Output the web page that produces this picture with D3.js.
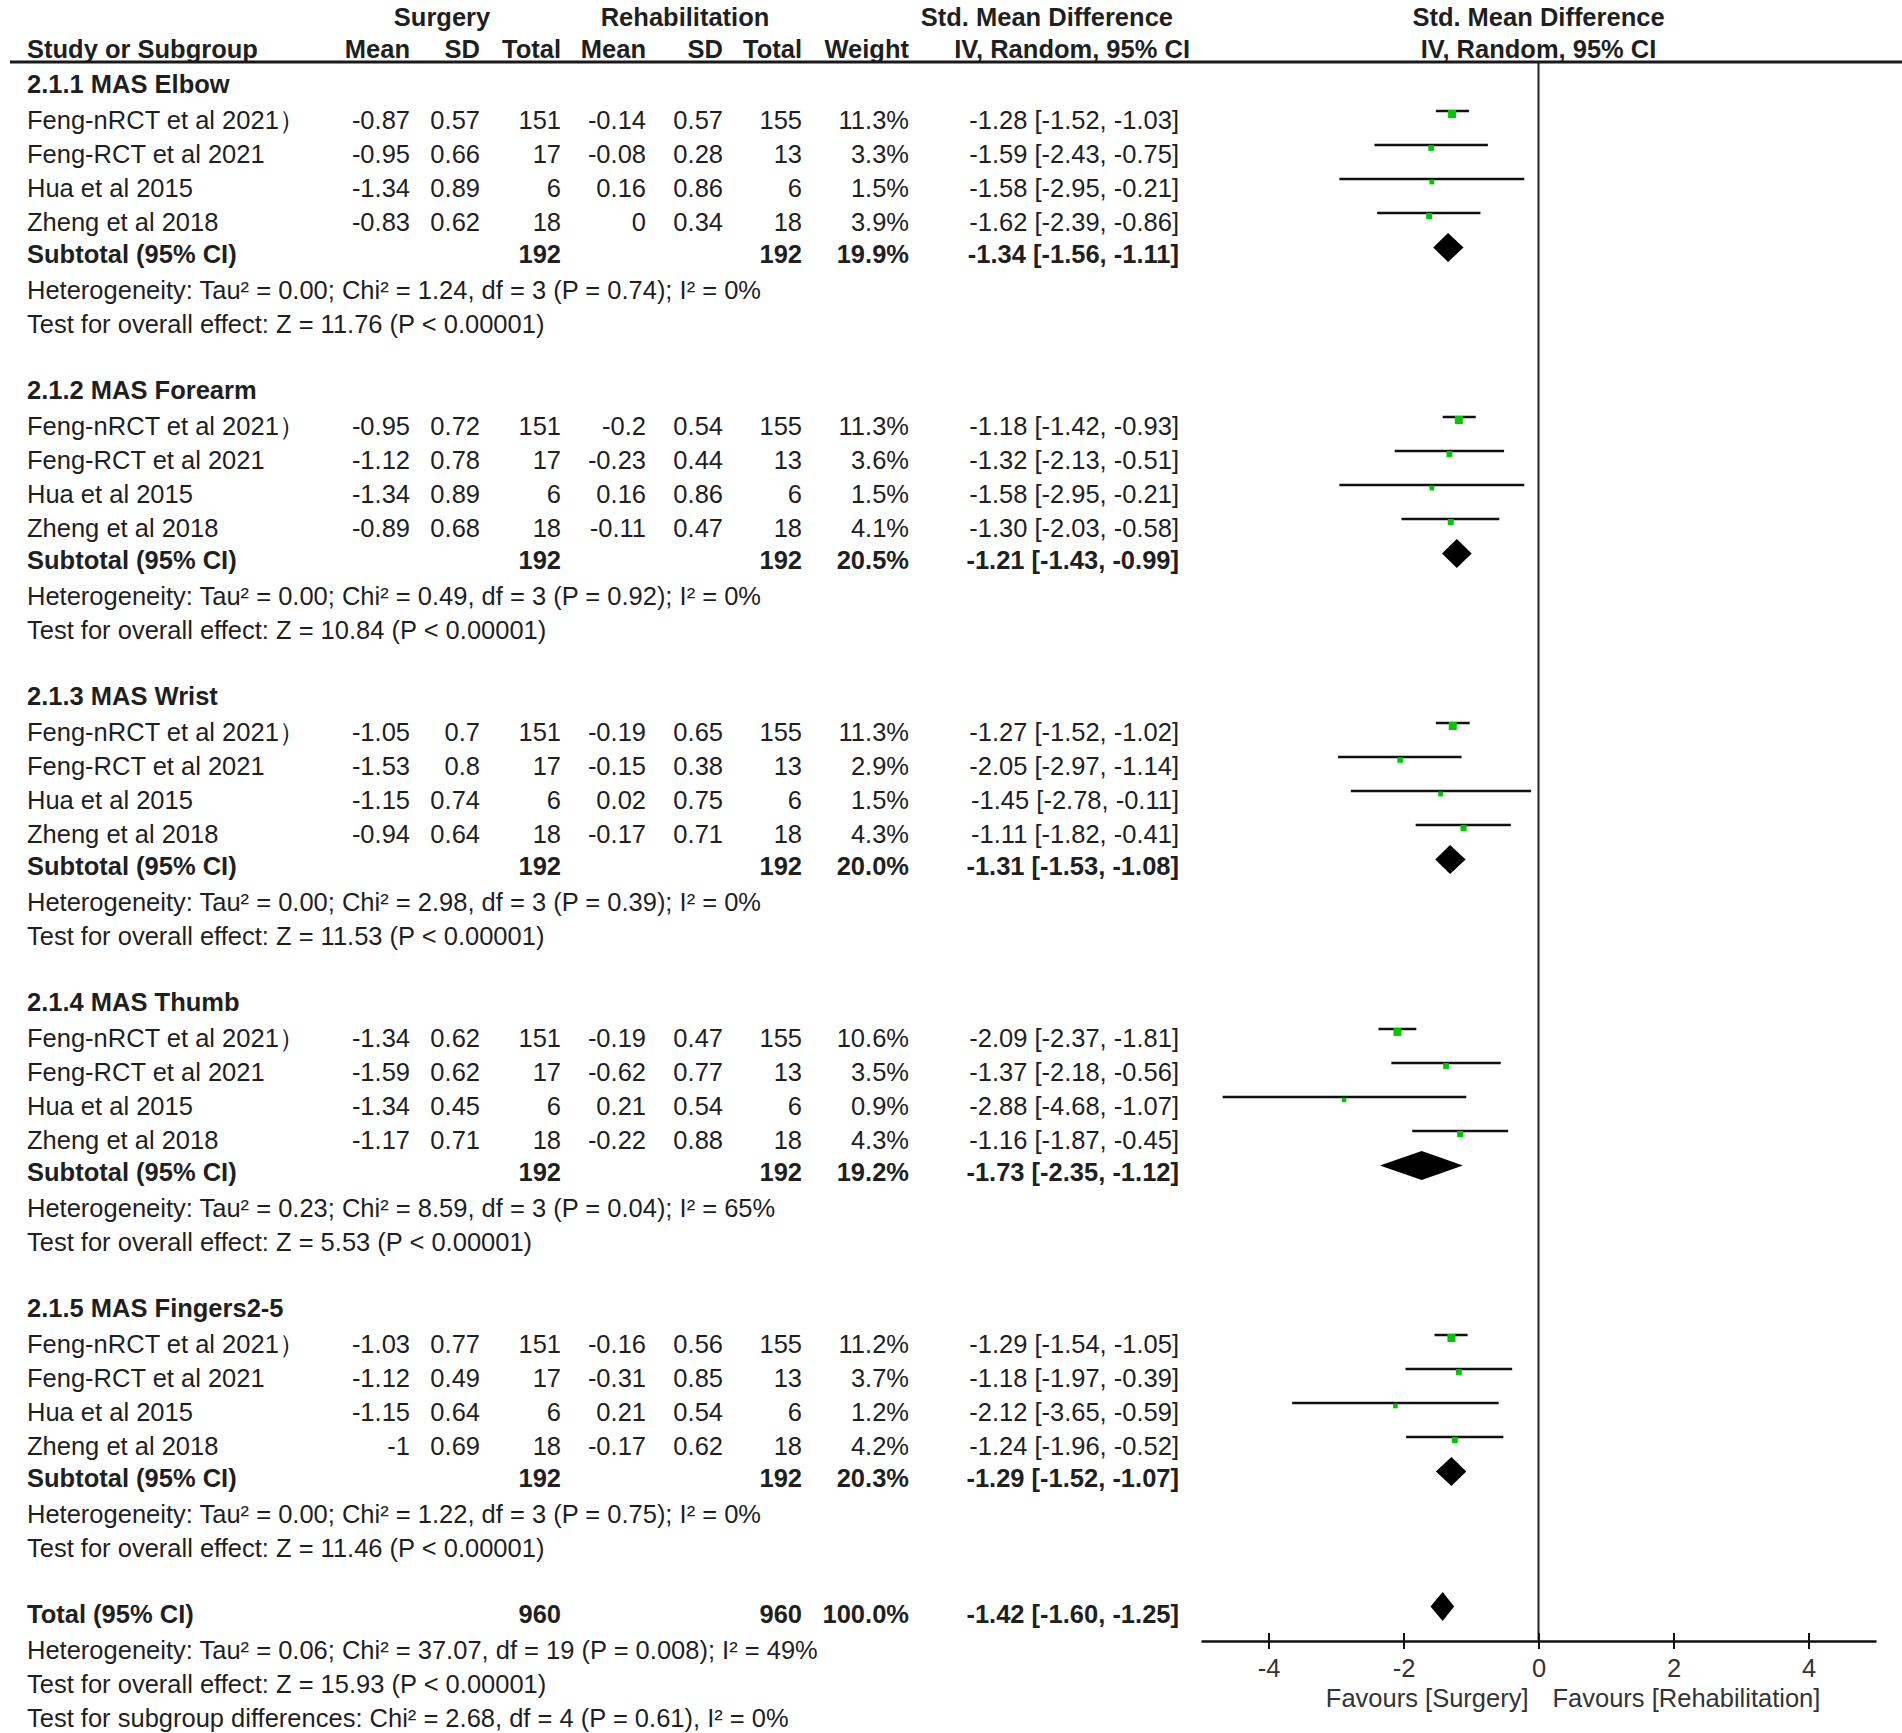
<!DOCTYPE html>
<html>
<head>
<meta charset="utf-8">
<script src="https://cdn.jsdelivr.net/npm/d3@7"></script>
<style>
  body { margin: 0; background: #fff; }
  svg text { font-family: "Liberation Sans", Arial, sans-serif; fill: #1f1f1f; }
</style>
</head>
<body>
<svg id="forest"></svg>
<script>
// ---- data ----
const groupTitles = ["2.1.1 MAS Elbow", "2.1.2 MAS Forearm", "2.1.3 MAS Wrist", "2.1.4 MAS Thumb", "2.1.5 MAS Fingers2-5"];
const studyNames = ["Feng-nRCT et al 2021）", "Feng-RCT et al 2021", "Hua et al 2015", "Zheng et al 2018"];

const surgMean = [[-0.87, -0.95, -1.34, -0.83], [-0.95, -1.12, -1.34, -0.89], [-1.05, -1.53, -1.15, -0.94], [-1.34, -1.59, -1.34, -1.17], [-1.03, -1.12, -1.15, -1]];
const surgSD   = [[0.57, 0.66, 0.89, 0.62], [0.72, 0.78, 0.89, 0.68], [0.7, 0.8, 0.74, 0.64], [0.62, 0.62, 0.45, 0.71], [0.77, 0.49, 0.64, 0.69]];
const surgN    = [151, 17, 6, 18];
const rehMean  = [[-0.14, -0.08, 0.16, 0], [-0.2, -0.23, 0.16, -0.11], [-0.19, -0.15, 0.02, -0.17], [-0.19, -0.62, 0.21, -0.22], [-0.16, -0.31, 0.21, -0.17]];
const rehSD    = [[0.57, 0.28, 0.86, 0.34], [0.54, 0.44, 0.86, 0.47], [0.65, 0.38, 0.75, 0.71], [0.47, 0.77, 0.54, 0.88], [0.56, 0.85, 0.54, 0.62]];
const rehN     = [155, 13, 6, 18];
const weights  = [[11.3, 3.3, 1.5, 3.9], [11.3, 3.6, 1.5, 4.1], [11.3, 2.9, 1.5, 4.3], [10.6, 3.5, 0.9, 4.3], [11.2, 3.7, 1.2, 4.2]];
const smd      = [[-1.28, -1.59, -1.58, -1.62], [-1.18, -1.32, -1.58, -1.30], [-1.27, -2.05, -1.45, -1.11], [-2.09, -1.37, -2.88, -1.16], [-1.29, -1.18, -2.12, -1.24]];
const smdLo    = [[-1.52, -2.43, -2.95, -2.39], [-1.42, -2.13, -2.95, -2.03], [-1.52, -2.97, -2.78, -1.82], [-2.37, -2.18, -4.68, -1.87], [-1.54, -1.97, -3.65, -1.96]];
const smdHi    = [[-1.03, -0.75, -0.21, -0.86], [-0.93, -0.51, -0.21, -0.58], [-1.02, -1.14, -0.11, -0.41], [-1.81, -0.56, -1.07, -0.45], [-1.05, -0.39, -0.59, -0.52]];

const subN      = [192, 192];
const subWeight = [19.9, 20.5, 20.0, 19.2, 20.3];
const subSmd    = [-1.34, -1.21, -1.31, -1.73, -1.29];
const subLo     = [-1.56, -1.43, -1.53, -2.35, -1.52];
const subHi     = [-1.11, -0.99, -1.08, -1.12, -1.07];
const hetTau    = ["0.00", "0.00", "0.00", "0.23", "0.00"];
const hetChi    = ["1.24", "0.49", "2.98", "8.59", "1.22"];
const hetP      = ["0.74", "0.92", "0.39", "0.04", "0.75"];
const hetI2     = ["0", "0", "0", "65", "0"];
const zValue    = ["11.76", "10.84", "11.53", "5.53", "11.46"];

const totalN = [960, 960];
const totalWeight = 100.0;
const totalSmd = [-1.42, -1.60, -1.25];
const totalLines = [
  "Heterogeneity: Tau² = 0.06; Chi² = 37.07, df = 19 (P = 0.008); I² = 49%",
  "Test for overall effect: Z = 15.93 (P < 0.00001)",
  "Test for subgroup differences: Chi² = 2.68, df = 4 (P = 0.61), I² = 0%"
];
const xTicks = [-4, -2, 0, 2, 4];
const favours = ["Favours [Surgery]", "Favours [Rehabilitation]"];

// ---- layout ----
const width = 1902, height = 1733;
const fontSize = 25.5;
const lineH = 34;
const firstBase = 92.5;
const baseY = k => firstBase + lineH * k;
const rowNudge = 2.5; // study rows and footnote lines sit a little lower

// right edges of the table columns
const col = { name: 27, m1: 410, sd1: 480, n1: 561, m2: 646, sd2: 723, n2: 802, w: 909, ci: 1179 };

const svg = d3.select("#forest")
    .attr("width", width)
    .attr("height", height);
svg.append("rect").attr("width", width).attr("height", height).attr("fill", "#fff");

const x = d3.scaleLinear().domain([-5, 5]).range([1201, 1876]);
const axisY = 1641;

const f2 = v => v.toFixed(2);
const ciText = (m, l, h) => `${f2(m)} [${f2(l)}, ${f2(h)}]`;

function txt(xp, y, s, opts = {}) {
    return svg.append("text")
        .attr("x", xp)
        .attr("y", y)
        .attr("font-size", opts.size || fontSize)
        .attr("font-weight", opts.bold ? "bold" : null)
        .attr("text-anchor", opts.anchor || "start")
        .text(s);
}

// header
txt(442, 26, "Surgery", { bold: true, anchor: "middle" });
txt(685, 26, "Rehabilitation", { bold: true, anchor: "middle" });
txt(1173, 26, "Std. Mean Difference", { bold: true, anchor: "end" });
txt(x(0), 26, "Std. Mean Difference", { bold: true, anchor: "middle" });
txt(col.name, 58, "Study or Subgroup", { bold: true });
[["Mean", col.m1], ["SD", col.sd1], ["Total", col.n1], ["Mean", col.m2], ["SD", col.sd2], ["Total", col.n2], ["Weight", col.w]]
    .forEach(([s, xp]) => txt(xp, 58, s, { bold: true, anchor: "end" }));
txt(1190, 58, "IV, Random, 95% CI", { bold: true, anchor: "end" });
txt(x(0), 58, "IV, Random, 95% CI", { bold: true, anchor: "middle" });

svg.append("line")
    .attr("x1", 10).attr("x2", width)
    .attr("y1", 62).attr("y2", 62)
    .attr("stroke", "#1a1a1a").attr("stroke-width", 3);

// zero line
svg.append("line")
    .attr("x1", x(0)).attr("x2", x(0))
    .attr("y1", 62).attr("y2", axisY)
    .attr("stroke", "#222").attr("stroke-width", 2);

const plot_g = svg.append("g");

function diamond(m, l, h, cy) {
    plot_g.append("path")
        .attr("d", `M${x(l)},${cy} L${x(m)},${cy - 14.5} L${x(h)},${cy} L${x(m)},${cy + 14.5} Z`)
        .attr("fill", "#000");
}

groupTitles.forEach((title, g) => {
    const k0 = g * 9;
    txt(col.name, baseY(k0), title, { bold: true });
    studyNames.forEach((name, i) => {
        const y = baseY(k0 + 1 + i) + rowNudge;
        txt(col.name, y, name);
        txt(col.m1, y, String(surgMean[g][i]), { anchor: "end" });
        txt(col.sd1, y, String(surgSD[g][i]), { anchor: "end" });
        txt(col.n1, y, String(surgN[i]), { anchor: "end" });
        txt(col.m2, y, String(rehMean[g][i]), { anchor: "end" });
        txt(col.sd2, y, String(rehSD[g][i]), { anchor: "end" });
        txt(col.n2, y, String(rehN[i]), { anchor: "end" });
        txt(col.w, y, weights[g][i].toFixed(1) + "%", { anchor: "end" });
        txt(col.ci, y, ciText(smd[g][i], smdLo[g][i], smdHi[g][i]), { anchor: "end" });

        const cy = y - 18;
        plot_g.append("line")
            .attr("x1", x(smdLo[g][i])).attr("x2", x(smdHi[g][i]))
            .attr("y1", cy).attr("y2", cy)
            .attr("stroke", "#111").attr("stroke-width", 2.5);
        const side = 3 + 1.5 * Math.sqrt(weights[g][i]);
        plot_g.append("rect")
            .attr("x", x(smd[g][i]) - side / 2)
            .attr("y", cy + 3 - side / 2)
            .attr("width", side).attr("height", side)
            .attr("fill", "#00c800");
    });
    const ys = baseY(k0 + 5);
    txt(col.name, ys, "Subtotal (95% CI)", { bold: true });
    txt(col.n1, ys, String(subN[0]), { bold: true, anchor: "end" });
    txt(col.n2, ys, String(subN[1]), { bold: true, anchor: "end" });
    txt(col.w, ys, subWeight[g].toFixed(1) + "%", { bold: true, anchor: "end" });
    txt(col.ci, ys, ciText(subSmd[g], subLo[g], subHi[g]), { bold: true, anchor: "end" });
    diamond(subSmd[g], subLo[g], subHi[g], ys - 15);

    txt(col.name, baseY(k0 + 6) + rowNudge, `Heterogeneity: Tau² = ${hetTau[g]}; Chi² = ${hetChi[g]}, df = 3 (P = ${hetP[g]}); I² = ${hetI2[g]}%`);
    txt(col.name, baseY(k0 + 7) + rowNudge, `Test for overall effect: Z = ${zValue[g]} (P < 0.00001)`);
});

// overall
const yt = baseY(45);
txt(col.name, yt, "Total (95% CI)", { bold: true });
txt(col.n1, yt, String(totalN[0]), { bold: true, anchor: "end" });
txt(col.n2, yt, String(totalN[1]), { bold: true, anchor: "end" });
txt(col.w, yt, totalWeight.toFixed(1) + "%", { bold: true, anchor: "end" });
txt(col.ci, yt, ciText(...totalSmd), { bold: true, anchor: "end" });
diamond(totalSmd[0], totalSmd[1], totalSmd[2], yt - 16);
totalLines.forEach((s, i) => txt(col.name, baseY(46 + i) + rowNudge, s));

// axis
const axis_g = svg.append("g")
    .attr("transform", `translate(0, ${axisY})`)
    .call(d3.axisBottom(x).tickValues(xTicks).tickSize(8).tickSizeOuter(0).tickFormat(d => String(d)));
axis_g.select(".domain").attr("stroke", "#111").attr("stroke-width", 2.5);
axis_g.selectAll(".tick line").attr("y1", -8).attr("stroke", "#111").attr("stroke-width", 2);
axis_g.selectAll(".tick text")
    .attr("y", 36)
    .attr("dy", null)
    .attr("font-size", fontSize)
    .attr("font-family", "Liberation Sans, Arial, sans-serif")
    .style("fill", "#333");

txt(x(0) - 10, 1707, favours[0], { anchor: "end" }).style("fill", "#333");
txt(x(0) + 14, 1707, favours[1]).style("fill", "#333");
</script>
</body>
</html>
